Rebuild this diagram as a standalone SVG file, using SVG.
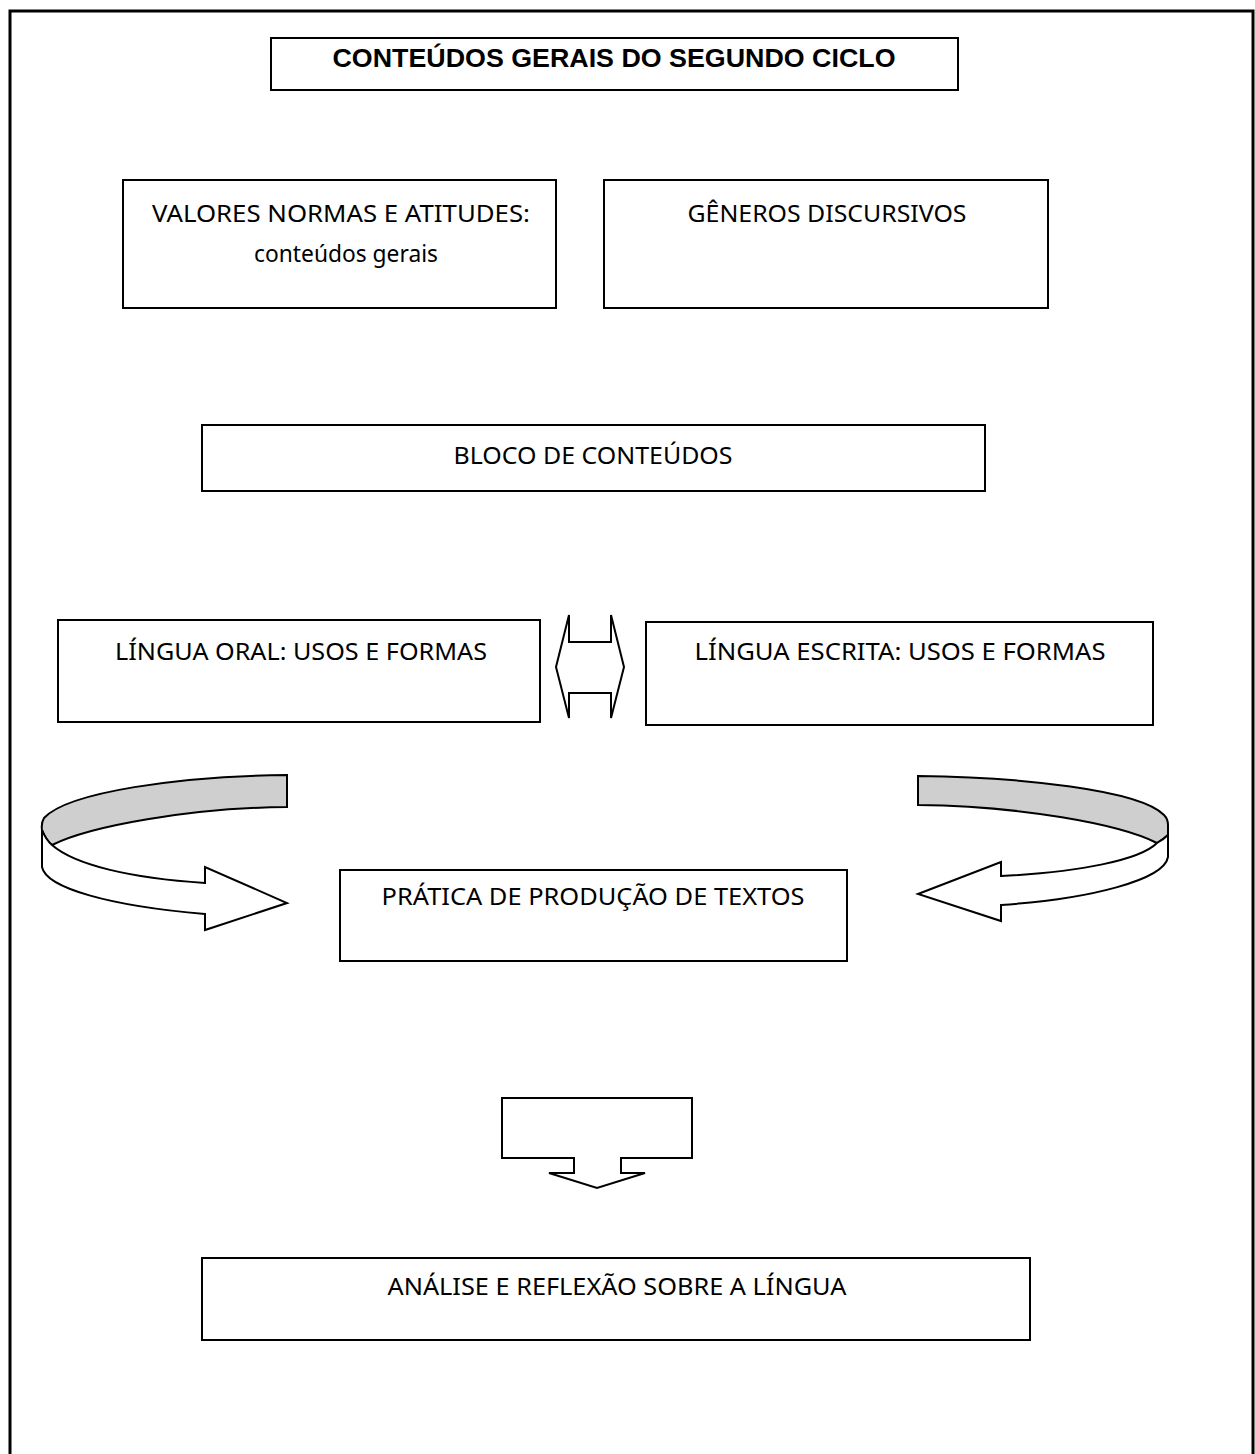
<svg xmlns="http://www.w3.org/2000/svg" width="1255" height="1454" viewBox="0 0 1255 1454">
<style>
.box{fill:#fff;stroke:#000;stroke-width:2}
.t{font-family:"Noto Sans","Liberation Sans",sans-serif;font-size:23px;fill:#000;text-anchor:middle}
.title{font-family:"Liberation Sans",Arial,sans-serif;font-size:25px;font-weight:bold;fill:#000;text-anchor:middle}
.shape{stroke:#000;stroke-width:2;stroke-linejoin:miter}
.white{fill:#fff}
.gray{fill:#cfcfcf}
</style>
<rect width="1255" height="1454" fill="#fff"/>
<path d="M10,1454 L10,11 L1253,11 L1253,1454" fill="none" stroke="#000" stroke-width="3"/>
<g id="title">
<rect class="box" x="271" y="38" width="687" height="52"/>
<text class="title" x="614" y="67" textLength="563" lengthAdjust="spacingAndGlyphs">CONTEÚDOS GERAIS DO SEGUNDO CICLO</text>
</g>
<g id="valores">
<rect class="box" x="123" y="180" width="433" height="128"/>
<text class="t" x="341" y="222" textLength="378" lengthAdjust="spacingAndGlyphs">VALORES NORMAS E ATITUDES:</text>
<text class="t" x="346" y="262" textLength="184" lengthAdjust="spacingAndGlyphs">conteúdos gerais</text>
</g>
<g id="generos">
<rect class="box" x="604" y="180" width="444" height="128"/>
<text class="t" x="827" y="222" textLength="279" lengthAdjust="spacingAndGlyphs">GÊNEROS DISCURSIVOS</text>
</g>
<g id="bloco">
<rect class="box" x="202" y="425" width="783" height="66"/>
<text class="t" x="593" y="464" textLength="279" lengthAdjust="spacingAndGlyphs">BLOCO DE CONTEÚDOS</text>
</g>
<g id="oral">
<rect class="box" x="58" y="620" width="482" height="102"/>
<text class="t" x="301" y="660" textLength="372" lengthAdjust="spacingAndGlyphs">LÍNGUA ORAL: USOS E FORMAS</text>
</g>
<g id="escrita">
<rect class="box" x="646" y="622" width="507" height="103"/>
<text class="t" x="900" y="660" textLength="411" lengthAdjust="spacingAndGlyphs">LÍNGUA ESCRITA: USOS E FORMAS</text>
</g>
<g id="pratica">
<rect class="box" x="340" y="870" width="507" height="91"/>
<text class="t" x="593" y="905" textLength="423" lengthAdjust="spacingAndGlyphs">PRÁTICA DE PRODUÇÃO DE TEXTOS</text>
</g>
<g id="analise">
<rect class="box" x="202" y="1258" width="828" height="82"/>
<text class="t" x="617" y="1295" textLength="459" lengthAdjust="spacingAndGlyphs">ANÁLISE E REFLEXÃO SOBRE A LÍNGUA</text>
</g>
<g id="connectors">
<path class="shape white" d="M556,667 L569,615 L569,642 L611,642 L611,615 L624,667 L611,718 L611,693 L569,693 L569,718 Z"/>
<path class="shape gray" d="M287,775 C180,776 68,792 44,818 Q41,823 42,830 Q46,840 52,845 C90,826 190,808 287,807 Z"/>
<path class="shape white" d="M42,830 L42,867 C46,888 110,906 205,914 L205,930 L287,903 L205,867 L205,883 C130,878 75,865 52,845 Q46,840 42,830 Z"/>
<path class="shape gray" d="M918,776 C1020,777 1140,790 1164,815 Q1168,819 1168,825 L1168,835 Q1164,839 1157,843 C1120,824 1020,806 918,805 Z"/>
<path class="shape white" d="M1168,825 L1168,857 C1164,880 1090,899 1001,905 L1001,921 L918,894 L1001,862 L1001,876 C1080,872 1140,860 1157,843 Q1164,839 1168,835 Z"/>
<path class="shape white" d="M502,1098 L692,1098 L692,1158 L621,1158 L621,1173 L645,1173 L597,1188 L549,1173 L574,1173 L574,1158 L502,1158 Z"/>
</g>
</svg>
